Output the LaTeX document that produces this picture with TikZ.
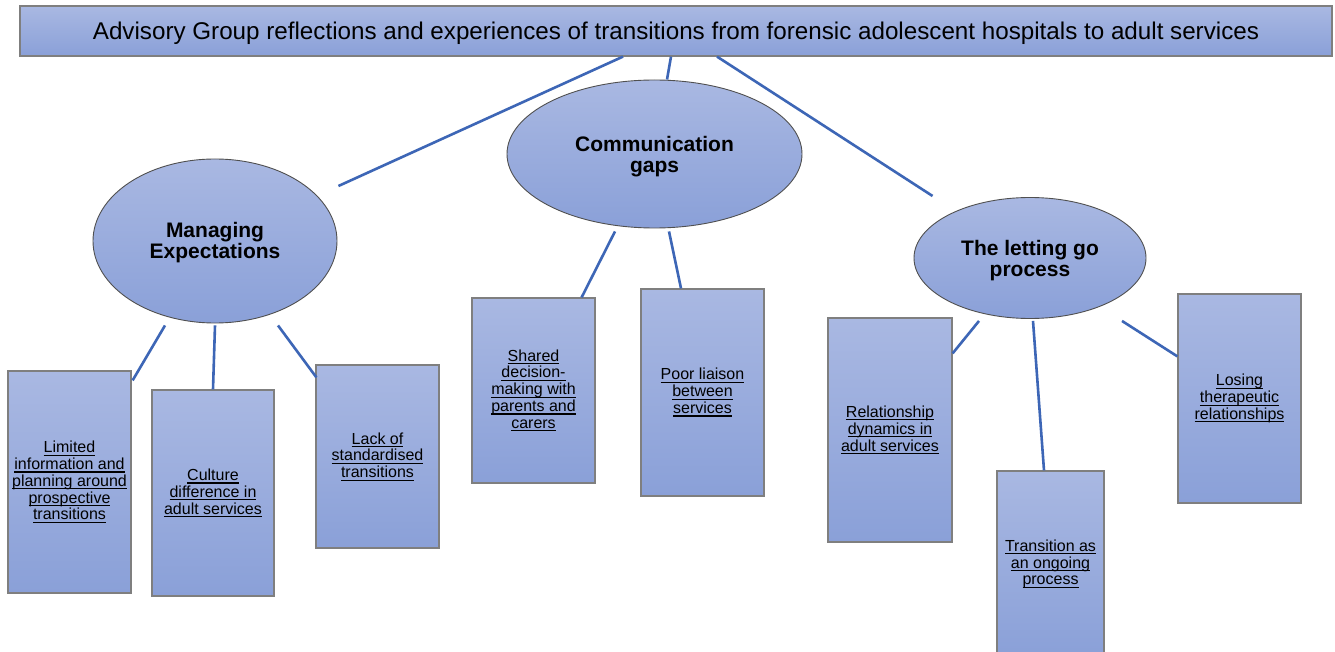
\documentclass[tikz,border=0pt]{standalone}
\usepackage{fontspec}
\setmainfont{Liberation Sans}
\usetikzlibrary{shapes.geometric,calc}
\definecolor{ftop}{HTML}{A9B8E2}
\definecolor{fbot}{HTML}{8AA0D8}
\definecolor{conn}{HTML}{3D66B6}
\definecolor{edgegray}{HTML}{7F7F7F}
\definecolor{ellgray}{HTML}{505050}
\newcommand\uu[1]{\leavevmode\setbox0\hbox{#1}\rlap{\rule[-3pt]{\wd0}{1.1pt}}\box0}
\newcommand\lift[1]{\rule{0pt}{#1}}
\begin{document}
\begin{tikzpicture}[x=1pt,y=-1pt,
  titlebox/.style={rectangle, draw=edgegray, line width=1.2pt, top color=ftop, bottom color=fbot,
    inner sep=0pt, font=\fontsize{24.2}{29}\selectfont},
  theme/.style={ellipse, draw=ellgray, line width=0.9pt, top color=ftop, bottom color=fbot,
    inner sep=0pt, align=center, font=\fontsize{21}{21.5}\selectfont\bfseries},
  sub/.style={rectangle, draw=edgegray, line width=1.2pt, top color=ftop, bottom color=fbot,
    inner sep=0pt, align=center, font=\fontsize{16}{16.8}\selectfont},
  conn/.style={draw=conn, line width=2.6pt}]
\clip (0,0) rectangle (1335,652);
\fill[white] (0,0) rectangle (1335,652);

\node[titlebox, minimum width=1312, minimum height=50] (t) at (676,31)
  {\lift{22pt}Advisory Group reflections and experiences of transitions from forensic adolescent hospitals to adult services};

\node[theme, minimum width=244, minimum height=164] (me) at (215,241) {\lift{18pt}Managing\\Expectations};
\node[theme, minimum width=295, minimum height=148] (cg) at (654.5,154) {\lift{20pt}Communication\\gaps};
\node[theme, minimum width=232, minimum height=121] (lg) at (1030,258) {\lift{20.5pt}The letting go\\process};

\node[sub, minimum width=123, minimum height=222] (b1) at (69.5,482)
  {\uu{Limited}\\\uu{information and}\\\uu{planning around}\\\uu{prospective}\\\uu{transitions}};
\node[sub, minimum width=122, minimum height=206] (b2) at (213,493)
  {\uu{Culture}\\\uu{difference in}\\\uu{adult services}};
\node[sub, minimum width=123, minimum height=183] (b3) at (377.5,456.5)
  {\uu{Lack of}\\\uu{standardised}\\\uu{transitions}};
\node[sub, minimum width=123, minimum height=185] (b4) at (533.5,390.5)
  {\uu{Shared}\\\uu{decision-}\\\uu{making with}\\\uu{parents and}\\\uu{carers}};
\node[sub, minimum width=123, minimum height=207] (b5) at (702.5,392.5)
  {\uu{Poor liaison}\\\uu{between}\\\uu{services}};
\node[sub, minimum width=124, minimum height=224] (b6) at (890,430)
  {\uu{Relationship}\\\uu{dynamics in}\\\uu{adult services}};
\node[sub, minimum width=107, minimum height=186] (b7) at (1050.5,564)
  {\uu{Transition as}\\\uu{an ongoing}\\\uu{process}};
\node[sub, minimum width=123, minimum height=209] (b8) at (1239.5,398.5)
  {\uu{Losing}\\\uu{therapeutic}\\\uu{relationships}};

\draw[conn] ([shift={(-53,0)}]t.south) -- ([shift={(1,-55)}]me.east);
\draw[conn] ([shift={(-5,0)}]t.south) -- ([shift={(12.5,0)}]cg.north);
\draw[conn] ([shift={(41,0)}]t.south) -- ([shift={(19,-62)}]lg.west);

\draw[conn] ([shift={(-50,2)}]me.south) -- ([shift={(1,10)}]b1.north east);
\draw[conn] ([shift={(0,2)}]me.south) -- (b2.north);
\draw[conn] ([shift={(63,2)}]me.south) -- ([shift={(1,13)}]b3.north west);

\draw[conn] ([shift={(-39.5,3)}]cg.south) -- ([shift={(-14,0)}]b4.north east);
\draw[conn] ([shift={(14.5,3)}]cg.south) -- ([shift={(-21.5,0)}]b5.north);

\draw[conn] ([shift={(-51,2)}]lg.south) -- ([shift={(0,36)}]b6.north east);
\draw[conn] ([shift={(3,2)}]lg.south) -- ([shift={(-6.5,0)}]b7.north);
\draw[conn] ([shift={(92,2)}]lg.south) -- ([shift={(0,63)}]b8.north west);
\end{tikzpicture}
\end{document}
